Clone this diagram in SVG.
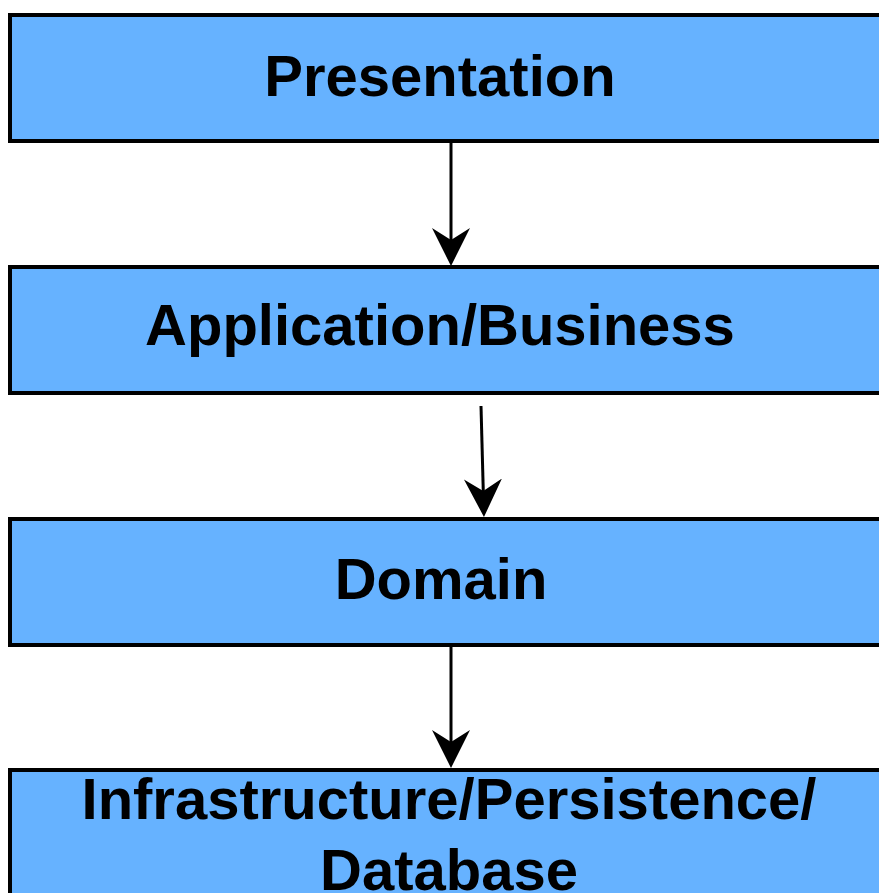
<svg xmlns="http://www.w3.org/2000/svg" width="879" height="893" viewBox="0 0 879 893">
<style>
.box{fill:#66B2FF;stroke:#000;stroke-width:4}
.lbl{font-family:"Liberation Sans",Arial,sans-serif;font-weight:bold;font-size:58px;fill:#000;text-anchor:middle}
.con{stroke:#000;stroke-width:3;fill:none;marker-end:url(#arr)}
</style>
<defs>
<marker id="arr" markerUnits="userSpaceOnUse" viewBox="0 -20 40 40" markerWidth="40" markerHeight="40" refX="28" refY="0" orient="auto">
<path d="M0,-19 L38,0 L0,19 L12,0 Z" fill="#000"/>
</marker>
</defs>
<rect width="879" height="893" fill="#fff"/>
<g id="connectors">
<line class="con" x1="451" y1="143" x2="451" y2="256"/>
<line class="con" x1="481" y1="406" x2="483.7" y2="507"/>
<line class="con" x1="451" y1="647" x2="451" y2="758"/>
</g>
<g id="presentation">
<rect class="box" x="10" y="15" width="890" height="126"/>
<text class="lbl" x="440" y="96">Presentation</text>
</g>
<g id="application">
<rect class="box" x="10" y="267" width="890" height="126"/>
<text class="lbl" x="440" y="345">Application/Business</text>
</g>
<g id="domain">
<rect class="box" x="10" y="519" width="890" height="126"/>
<text class="lbl" x="441" y="599">Domain</text>
</g>
<g id="infrastructure">
<rect class="box" x="10" y="770" width="890" height="160"/>
<text class="lbl" x="449" y="819">Infrastructure/Persistence/</text>
<text class="lbl" x="449" y="890">Database</text>
</g>
</svg>
